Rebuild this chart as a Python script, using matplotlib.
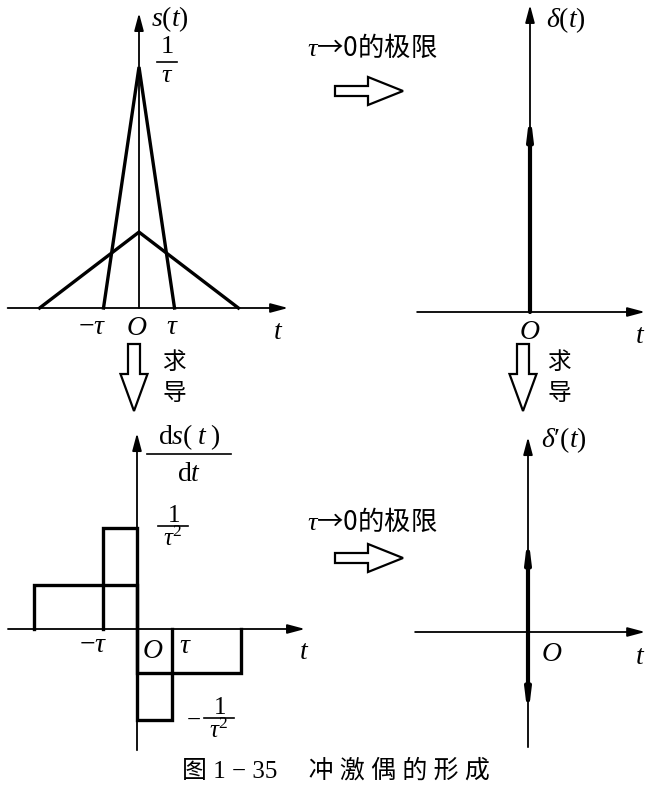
import matplotlib
matplotlib.use("Agg")
import matplotlib.pyplot as plt
from matplotlib.patches import FancyArrow

plt.rcParams.update({
    "mathtext.fontset": "custom",
    "mathtext.rm": "Liberation Serif",
    "mathtext.it": "Liberation Serif:italic",
    "mathtext.bf": "Liberation Serif:bold",
})

W, H = 656, 800
CJK = ["Noto Sans CJK SC", "DejaVu Sans"]
SERIF_CJK = ["Liberation Serif", "Noto Sans CJK SC"]

# s(t): narrow and wide triangle pulses (t in units of tau, s in units of 1/tau)
t_narrow = [-1, 0, 1]
s_narrow = [0, 1.0, 0]
t_wide = [-2.8, 0, 2.8]
s_wide = [0, 0.315, 0]

# ds/dt: rectangular pulse pairs (units of 1/tau^2)
ds_wide_t = [-3, -3, 0, 0, 3, 3]
ds_wide = [0, 0.44, 0.44, -0.44, -0.44, 0]
ds_narrow_t = [-1, -1, 0, 0, 1, 1]
ds_narrow = [0, 1.0, 1.0, -0.9, -0.9, 0]

# limits: delta impulse and doublet strengths as drawn
delta_h = 0.83
doublet_up = 0.96
doublet_dn = -0.84

fig = plt.figure(figsize=(W / 100, H / 100), dpi=100)


def panel(box, origin, scale):
    # box / origin in pixels (top-left origin), scale = pixels per data unit
    x0, y0, x1, y1 = box
    ox, oy = origin
    sx, sy = scale
    ax = fig.add_axes([x0 / W, 1 - y1 / H, (x1 - x0) / W, (y1 - y0) / H])
    ax.set_xlim((x0 - ox) / sx, (x1 - ox) / sx)
    ax.set_ylim((oy - y1) / sy, (oy - y0) / sy)
    ax.axis("off")
    return ax


def arrow(ax, start, end, lw=1.3, hl=0.75, hw=0.2):
    ax.annotate("", xy=end, xytext=start, annotation_clip=False,
                arrowprops=dict(arrowstyle=f"-|>,head_length={hl},head_width={hw}",
                                lw=lw, color="k", shrinkA=0, shrinkB=0,
                                mutation_scale=14))


LW = 2.4

# top-left: s(t)
ax1 = panel((0, 0, 310, 340), (139, 308), (35.5, 241))
ax1.plot(t_narrow, s_narrow, color="k", lw=LW, solid_joinstyle="miter")
ax1.plot(t_wide, s_wide, color="k", lw=LW, solid_joinstyle="miter")
arrow(ax1, (-3.7, 0), (4.2, 0))
arrow(ax1, (0, 0), (0, 1.224))

# top-right: delta(t)
ax2 = panel((310, 0, 656, 340), (530, 312), (35.5, 241))
arrow(ax2, (-3.18, 0), (3.24, 0))
arrow(ax2, (0, 0), (0, 1.274))
arrow(ax2, (0, 0), (0, delta_h), lw=3.0, hl=0.8, hw=0.1)

# bottom-left: ds/dt
ax3 = panel((0, 340, 310, 760), (137, 629), (34.5, 101))
ax3.plot(ds_wide_t, ds_wide, color="k", lw=LW, solid_joinstyle="miter")
ax3.plot(ds_narrow_t, ds_narrow, color="k", lw=LW, solid_joinstyle="miter")
arrow(ax3, (-3.74, 0), (4.87, 0))
arrow(ax3, (0, -1.2), (0, 1.94))

# bottom-right: delta'(t)
ax4 = panel((310, 340, 656, 760), (528, 632), (35.5, 101))
arrow(ax4, (-3.18, 0), (3.3, 0))
arrow(ax4, (0, -1.14), (0, 1.93))
arrow(ax4, (0, 0), (0, doublet_up), lw=3.0, hl=0.8, hw=0.1)
arrow(ax4, (0, 0), (0, doublet_dn), lw=3.0, hl=0.8, hw=0.1)

# overlay in pixel coordinates for labels and hollow arrows
ov = fig.add_axes([0, 0, 1, 1])
ov.set_xlim(0, W)
ov.set_ylim(H, 0)
ov.axis("off")

FS = 20


def lab(x, y, s, ha="center", fs=FS, **kw):
    ov.text(x, y, s, ha=ha, va="center", fontsize=fs, **kw)


def frac(x, y, num, den, w, fs, dn=11, dd=12):
    # hand-set fraction: bar centred at (x, y)
    lab(x, y - dn, num, fs=fs)
    lab(x, y + dd, den, fs=fs)
    ov.plot([x - w / 2, x + w / 2], [y, y], color="k", lw=1.2)


lab(151, 19, r"$s(t)$", ha="left")
frac(167, 62, r"$1$", r"$\tau$", 20, 19, dn=16, dd=13)
lab(92, 326, r"$-\tau$")
lab(137, 327, r"$O$")
lab(172, 326, r"$\tau$")
lab(278, 331, r"$t$")

lab(546, 20, r"$\delta(t)$", ha="left")
lab(530, 331, r"$O$")
lab(640, 335, r"$t$")

frac(189, 454, r"$\mathrm{d}s(\;t\;)$", r"$\mathrm{d}t$", 84, 20, dn=17, dd=19)
frac(173, 526, r"$1$", r"$\tau^2$", 30, 18, dn=11, dd=13)
lab(93, 644, r"$-\tau$")
lab(153, 650, r"$O$")
lab(185, 645, r"$\tau$")
lab(304, 651, r"$t$")
lab(193, 719, r"$-$", fs=18)
frac(219, 718, r"$1$", r"$\tau^2$", 30, 18, dn=11, dd=13)

lab(541, 440, r"$\delta\prime(t)$", ha="left")
lab(552, 653, r"$O$")
lab(640, 656, r"$t$")

# tau -> 0 limit arrows
for ty, ay in [(48, 91), (522, 558)]:
    lab(307, ty, r"$\tau$" + "→0的极限", ha="left", fs=19, family=CJK)
    ov.add_patch(FancyArrow(335, ay, 68, 0, width=10, head_width=28, head_length=35,
                            length_includes_head=True, fc="white", ec="k", lw=1.6))

# derivative arrows
for ax_x, tx in [(134, 174), (523, 559)]:
    ov.add_patch(FancyArrow(ax_x, 344, 0, 67, width=12, head_width=27, head_length=37,
                            length_includes_head=True, fc="white", ec="k", lw=1.6))
    lab(tx, 362, "求", fs=17, family=CJK)
    lab(tx, 394, "导", fs=17, family=CJK)

lab(336, 771, "图 1 − 35     冲 激 偶 的 形 成", fs=18, family=SERIF_CJK)

fig.savefig("out.png", dpi=100)
